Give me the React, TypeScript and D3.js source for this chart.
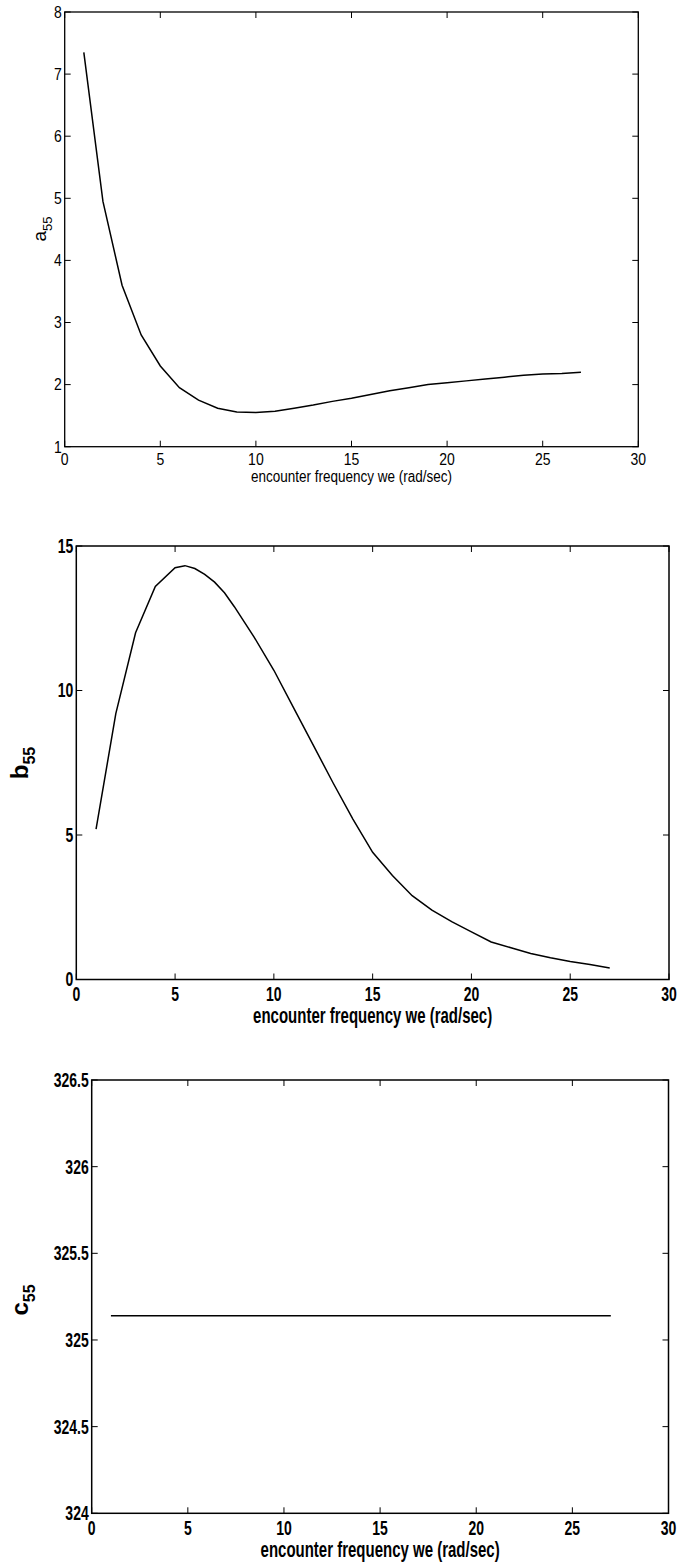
import React from "react";
import * as d3 from "d3";

// ---------- data ----------
const aX = [1, 2, 3, 4, 5, 6, 7, 8, 9, 10, 11, 12, 13, 14, 15, 16, 17, 18, 19, 20, 21, 22, 23, 24, 25, 26, 27];
const aY = [7.35, 4.95, 3.6, 2.8, 2.3, 1.95, 1.75, 1.62, 1.56, 1.55, 1.57, 1.62, 1.67, 1.73, 1.78, 1.84, 1.9, 1.95, 2.0, 2.03, 2.06, 2.09, 2.12, 2.15, 2.17, 2.18, 2.2];

const bX = [1, 2, 3, 4, 5, 5.5, 6, 6.5, 7, 7.5, 8, 9, 10, 11, 12, 13, 14, 15, 16, 17, 18, 19, 20, 21, 22, 23, 24, 25, 26, 27];
const bY = [5.2, 9.2, 12.0, 13.6, 14.25, 14.32, 14.22, 14.02, 13.75, 13.38, 12.9, 11.85, 10.7, 9.4, 8.1, 6.8, 5.55, 4.4, 3.6, 2.9, 2.4, 2.0, 1.65, 1.3, 1.1, 0.9, 0.75, 0.62, 0.52, 0.4];

const cX = [1, 27];
const cY = [325.14, 325.14];

const xTicks = [0, 5, 10, 15, 20, 25, 30];
const aTicks = [1, 2, 3, 4, 5, 6, 7, 8];
const bTicks = [0, 5, 10, 15];
const cTicks = [324, 324.5, 325, 325.5, 326, 326.5];

const xTitle = "encounter frequency we (rad/sec)";

type PanelProps = {
  left: number; right: number; top: number; bottom: number;
  yDomain: [number, number];
  yTicks: number[];
  xs: number[]; ys: number[];
  bold: boolean;
  tickSize: number; tickSy: number;
  titleSize: number; titleSy: number;
  tickBase: number; titleBase: number;
  yLab: string; yLabX: number; yLabY: number; yLabSize: number; subSize: number;
  boxW: number; lineW: number;
};

const FONT = "'Liberation Sans', Arial, sans-serif";

function Panel(p: PanelProps) {
  const x = d3.scaleLinear().domain([0, 30]).range([p.left, p.right]);
  const y = d3.scaleLinear().domain(p.yDomain).range([p.bottom, p.top]);
  const line = d3.line<number>().x((_, i) => x(p.xs[i])).y((d) => y(d));
  const tl = 6;
  const fw = p.bold ? "bold" : "normal";
  return (
    <g fontFamily={FONT} fontWeight={fw} fill="#000">
      <path d={line(p.ys) || ""} fill="none" stroke="#000" strokeWidth={p.lineW} />
      {xTicks.map((t) => (
        <g key={"x" + t}>
          <line x1={x(t)} x2={x(t)} y1={p.bottom} y2={p.bottom - tl} stroke="#000" strokeWidth={1} />
          <line x1={x(t)} x2={x(t)} y1={p.top} y2={p.top + tl} stroke="#000" strokeWidth={1} />
          <text transform={`translate(${x(t)},${p.bottom + p.tickBase}) scale(1,${p.tickSy})`} textAnchor="middle" fontSize={p.tickSize}>{t}</text>
        </g>
      ))}
      {p.yTicks.map((t) => (
        <g key={"y" + t}>
          <line x1={p.left} x2={p.left + tl} y1={y(t)} y2={y(t)} stroke="#000" strokeWidth={1} />
          <line x1={p.right} x2={p.right - tl} y1={y(t)} y2={y(t)} stroke="#000" strokeWidth={1} />
          <text transform={`translate(${p.left - 3},${y(t)}) scale(1,${p.tickSy})`} textAnchor="end" dominantBaseline="central" fontSize={p.tickSize}>{t}</text>
        </g>
      ))}
      <rect x={p.left} y={p.top} width={p.right - p.left} height={p.bottom - p.top} fill="none" stroke="#000" strokeWidth={p.boxW} />
      <text transform={`translate(${(p.left + p.right) / 2},${p.bottom + p.titleBase}) scale(1,${p.titleSy})`} textAnchor="middle" fontSize={p.titleSize}>{xTitle}</text>
      <text transform={`translate(${p.yLabX},${p.yLabY}) rotate(-90)`} textAnchor="middle" fontSize={p.yLabSize}>
        {p.yLab}
        <tspan fontSize={p.subSize} dy={p.subSize * 0.45}>55</tspan>
      </text>
    </g>
  );
}

export default function App() {
  return (
    <svg width={679} height={1566} style={{ position: "absolute", left: 0, top: 0, background: "#fff" }}>
      <rect width={679} height={1566} fill="#fff" />
      <Panel left={64.7} right={638.3} top={12} bottom={446.7} yDomain={[1, 8]} yTicks={aTicks}
        xs={aX} ys={aY} bold={false} tickSize={14} tickSy={1.15} titleSize={13.5} titleSy={1.2}
        tickBase={18} titleBase={35} yLab="a" yLabX={46} yLabY={229} yLabSize={19} subSize={13}
        boxW={1.3} lineW={1.5} />
      <Panel left={76.3} right={669} top={546} bottom={979.5} yDomain={[0, 15]} yTicks={bTicks}
        xs={bX} ys={bY} bold={true} tickSize={14} tickSy={1.45} titleSize={15} titleSy={1.5}
        tickBase={21} titleBase={43} yLab="b" yLabX={28} yLabY={763} yLabSize={24} subSize={16}
        boxW={1.5} lineW={1.5} />
      <Panel left={91.7} right={668.5} top={1080} bottom={1513.3} yDomain={[324, 326.5]} yTicks={cTicks}
        xs={cX} ys={cY} bold={true} tickSize={14} tickSy={1.45} titleSize={15} titleSy={1.5}
        tickBase={21.7} titleBase={43.7} yLab="c" yLabX={28} yLabY={1300} yLabSize={24} subSize={16}
        boxW={1.5} lineW={1.5} />
    </svg>
  );
}
